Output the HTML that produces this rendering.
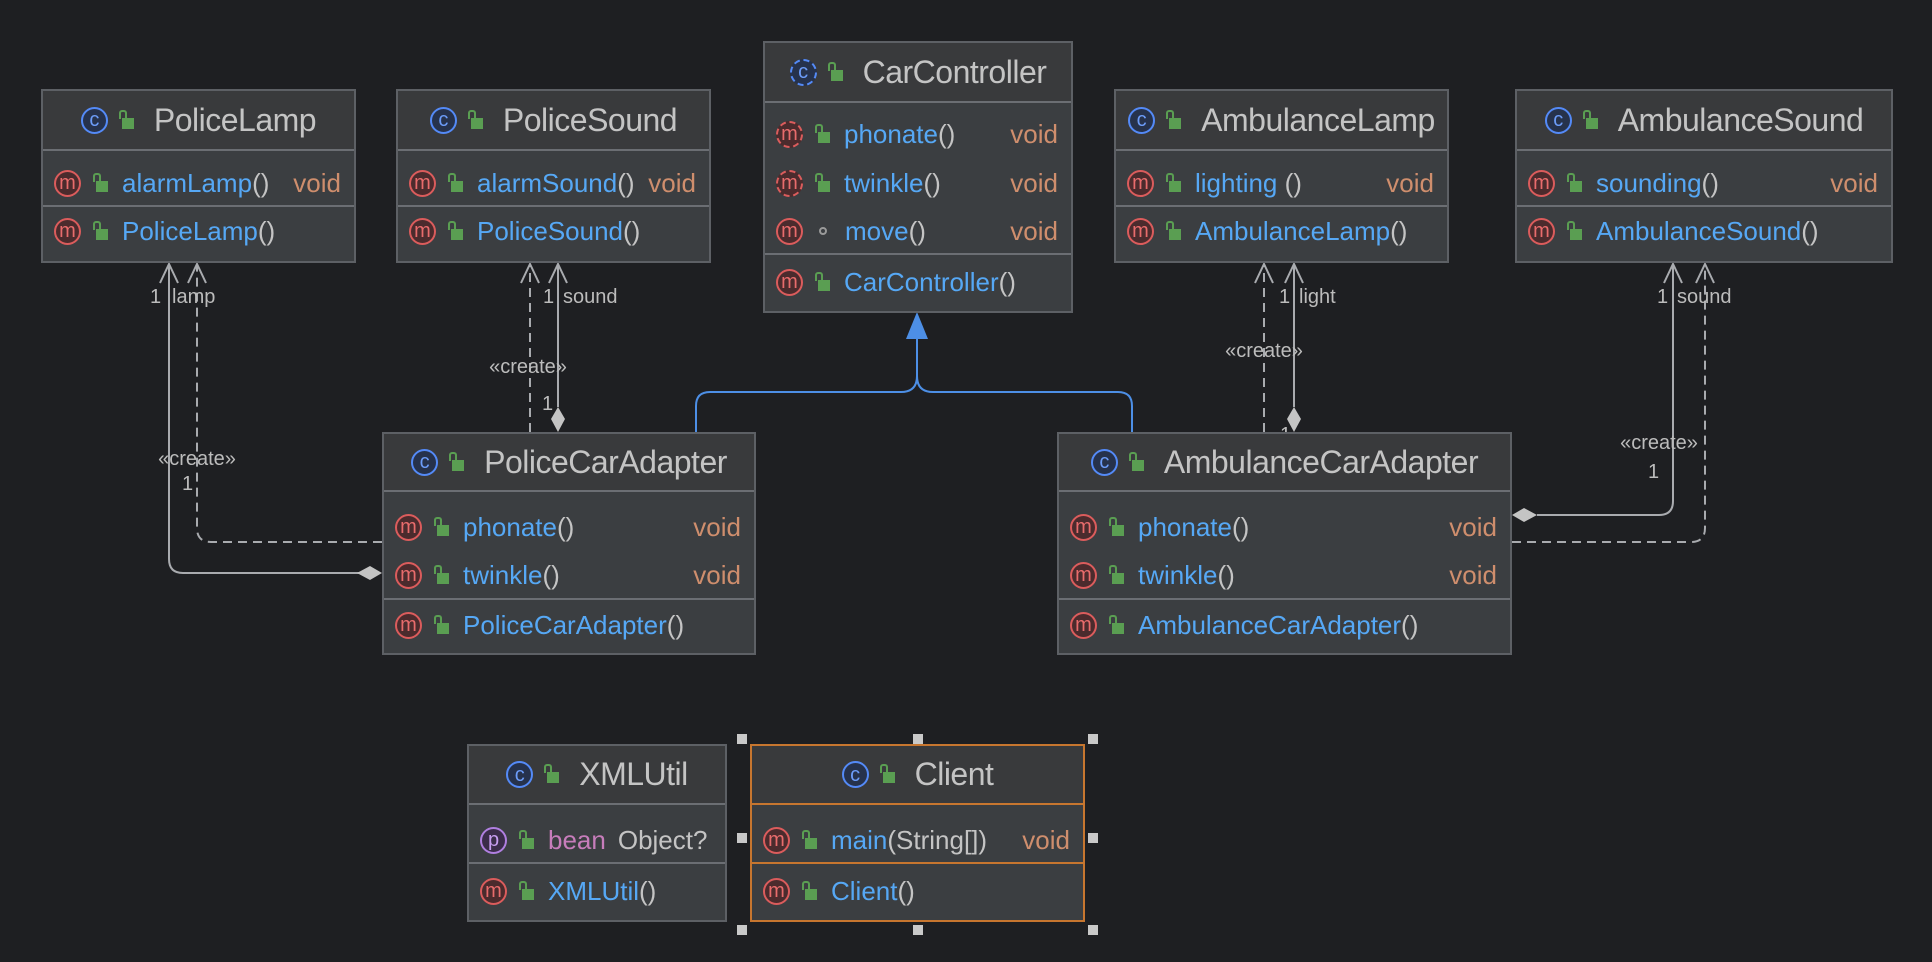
<!DOCTYPE html>
<html><head><meta charset="utf-8"><style>
html,body{margin:0;padding:0;background:#1e1f22;width:1932px;height:962px;overflow:hidden;font-family:"Liberation Sans",sans-serif}
.box{position:absolute;background:#3b3e41;border:2px solid #5d6065;box-sizing:border-box}
.hd{position:absolute;left:0;right:0;top:0;background:#393a3c;border-bottom:2px solid #6b6e73;display:flex;align-items:center;justify-content:center;color:#c4c4c4;font-size:32px;letter-spacing:-0.5px}
.sep{position:absolute;left:0;right:0;height:2px;background:#6b6e73}
.row{position:absolute;left:0;right:0;height:34px;display:flex;align-items:center;font-size:26px;color:#56a8f5;white-space:nowrap}
.ic{width:27px;height:27px;border-radius:50%;border:2px solid;display:inline-flex;align-items:center;justify-content:center;font-size:20px;box-sizing:border-box;flex:none;line-height:1;letter-spacing:0}
.m{border-color:#db5c5c;background:#4b2b2d;color:#e86c6c}
.c{border-color:#548af7;background:#26324c;color:#6c9cf8}
.p{border-color:#b07fe0;background:#3b2c4a;color:#c79df0}
.ab{border-style:dashed}
.lk{position:relative;width:12px;height:11px;background:#5a9e52;flex:none;margin-top:6px}
.lk:before{content:"";position:absolute;left:-3px;top:-8px;width:4px;height:7px;border:2px solid #5a9e52;border-bottom:none;border-radius:3px 3px 0 0}
.row .ic{margin-left:11px}.row .lk{margin-left:15px}.row .t{margin-left:14px}
.hd .lk{margin-left:14px}.hd .t{margin-left:20px}
.pa{color:#c4c4c4}
.v{margin-left:auto;padding-right:13px;color:#cf8e6d}
.dot{width:8px;height:8px;border:2px solid #9a9a9a;border-radius:50%;box-sizing:border-box;margin-left:16px;margin-right:4px;flex:none}
.fld{color:#c77dbb}
.h{position:absolute;width:10px;height:10px;background:#c9c9c9}
svg{position:absolute;left:0;top:0}
svg text{font-family:"Liberation Sans",sans-serif;font-size:20px;fill:#bcbcbc}
</style></head><body>

<svg width="1932" height="962">
<g fill="none" stroke="#a9abaf" stroke-width="2">
<path d="M370,573 H183 Q169,573 169,559 V264"/><path d="M160,283 L169,264 L178,283"/>
<path d="M382,542 H211 Q197,542 197,528 V264" stroke-dasharray="9,6"/><path d="M188,283 L197,264 L206,283"/>
<path d="M530,432 V264" stroke-dasharray="9,6"/><path d="M521,283 L530,264 L539,283"/>
<path d="M558,407 V264"/><path d="M549,283 L558,264 L567,283"/>
<path d="M1264,432 V264" stroke-dasharray="9,6"/><path d="M1255,283 L1264,264 L1273,283"/>
<path d="M1294,407 V264"/><path d="M1285,283 L1294,264 L1303,283"/>
<path d="M1537,515 H1659 Q1673,515 1673,501 V264"/><path d="M1664,283 L1673,264 L1682,283"/>
<path d="M1512,542 H1691 Q1705,542 1705,528 V264" stroke-dasharray="9,6"/><path d="M1696,283 L1705,264 L1714,283"/>
</g>
<g fill="#c4c4c4">
<polygon points="382,573 370,566 357,573 370,580"/>
<polygon points="558,407 565,419 558,432 551,419"/>
<polygon points="1294,407 1301,419 1294,432 1287,419"/>
<polygon points="1512,515 1524,508 1537,515 1524,522"/>
</g>
<g fill="none" stroke="#4d8fe6" stroke-width="2">
<path d="M917,339 V376 Q917,392 901,392 H710 Q696,392 696,406 V432"/>
<path d="M917,376 Q917,392 933,392 H1118 Q1132,392 1132,406 V432"/>
</g>
<polygon points="917,312 906,339 928,339" fill="#4d8fe6"/>
<text x="150" y="303">1</text><text x="172" y="303">lamp</text>
<text x="197" y="465" text-anchor="middle">«create»</text><text x="182" y="490">1</text>
<text x="543" y="303">1</text><text x="563" y="303">sound</text>
<text x="528" y="373" text-anchor="middle">«create»</text><text x="542" y="410">1</text>
<text x="1279" y="303">1</text><text x="1299" y="303">light</text>
<text x="1264" y="357" text-anchor="middle">«create»</text><text x="1280" y="441">1</text>
<text x="1657" y="303">1</text><text x="1677" y="303">sound</text>
<text x="1659" y="449" text-anchor="middle">«create»</text><text x="1648" y="478">1</text>
</svg>

<!-- PoliceLamp -->
<div class="box" style="left:41px;top:89px;width:315px;height:174px">
<div class="hd" style="height:58px"><span class="ic c">c</span><span class="lk"></span><span class="t">PoliceLamp</span></div>
<div class="row" style="top:75px"><span class="ic m">m</span><span class="lk"></span><span class="t">alarmLamp<span class="pa">()</span></span><span class="v">void</span></div>
<div class="sep" style="top:114px"></div>
<div class="row" style="top:123px"><span class="ic m">m</span><span class="lk"></span><span class="t">PoliceLamp<span class="pa">()</span></span></div>
</div>

<!-- PoliceSound -->
<div class="box" style="left:396px;top:89px;width:315px;height:174px">
<div class="hd" style="height:58px"><span class="ic c">c</span><span class="lk"></span><span class="t">PoliceSound</span></div>
<div class="row" style="top:75px"><span class="ic m">m</span><span class="lk"></span><span class="t">alarmSound<span class="pa">()</span></span><span class="v">void</span></div>
<div class="sep" style="top:114px"></div>
<div class="row" style="top:123px"><span class="ic m">m</span><span class="lk"></span><span class="t">PoliceSound<span class="pa">()</span></span></div>
</div>

<!-- CarController -->
<div class="box" style="left:763px;top:41px;width:310px;height:272px">
<div class="hd" style="height:58px"><span class="ic c ab">c</span><span class="lk"></span><span class="t">CarController</span></div>
<div class="row" style="top:74px"><span class="ic m ab">m</span><span class="lk"></span><span class="t">phonate<span class="pa">()</span></span><span class="v">void</span></div>
<div class="row" style="top:123px"><span class="ic m ab">m</span><span class="lk"></span><span class="t">twinkle<span class="pa">()</span></span><span class="v">void</span></div>
<div class="row" style="top:171px"><span class="ic m">m</span><span class="dot"></span><span class="t">move<span class="pa">()</span></span><span class="v">void</span></div>
<div class="sep" style="top:210px"></div>
<div class="row" style="top:222px"><span class="ic m">m</span><span class="lk"></span><span class="t">CarController<span class="pa">()</span></span></div>
</div>

<!-- AmbulanceLamp -->
<div class="box" style="left:1114px;top:89px;width:335px;height:174px">
<div class="hd" style="height:58px"><span class="ic c">c</span><span class="lk"></span><span class="t">AmbulanceLamp</span></div>
<div class="row" style="top:75px"><span class="ic m">m</span><span class="lk"></span><span class="t">lighting<span class="pa"> ()</span></span><span class="v">void</span></div>
<div class="sep" style="top:114px"></div>
<div class="row" style="top:123px"><span class="ic m">m</span><span class="lk"></span><span class="t">AmbulanceLamp<span class="pa">()</span></span></div>
</div>

<!-- AmbulanceSound -->
<div class="box" style="left:1515px;top:89px;width:378px;height:174px">
<div class="hd" style="height:58px"><span class="ic c">c</span><span class="lk"></span><span class="t">AmbulanceSound</span></div>
<div class="row" style="top:75px"><span class="ic m">m</span><span class="lk"></span><span class="t">sounding<span class="pa">()</span></span><span class="v">void</span></div>
<div class="sep" style="top:114px"></div>
<div class="row" style="top:123px"><span class="ic m">m</span><span class="lk"></span><span class="t">AmbulanceSound<span class="pa">()</span></span></div>
</div>

<!-- PoliceCarAdapter -->
<div class="box" style="left:382px;top:432px;width:374px;height:223px">
<div class="hd" style="height:56px"><span class="ic c">c</span><span class="lk"></span><span class="t">PoliceCarAdapter</span></div>
<div class="row" style="top:76px"><span class="ic m">m</span><span class="lk"></span><span class="t">phonate<span class="pa">()</span></span><span class="v">void</span></div>
<div class="row" style="top:124px"><span class="ic m">m</span><span class="lk"></span><span class="t">twinkle<span class="pa">()</span></span><span class="v">void</span></div>
<div class="sep" style="top:164px"></div>
<div class="row" style="top:174px"><span class="ic m">m</span><span class="lk"></span><span class="t">PoliceCarAdapter<span class="pa">()</span></span></div>
</div>

<!-- AmbulanceCarAdapter -->
<div class="box" style="left:1057px;top:432px;width:455px;height:223px">
<div class="hd" style="height:56px"><span class="ic c">c</span><span class="lk"></span><span class="t">AmbulanceCarAdapter</span></div>
<div class="row" style="top:76px"><span class="ic m">m</span><span class="lk"></span><span class="t">phonate<span class="pa">()</span></span><span class="v">void</span></div>
<div class="row" style="top:124px"><span class="ic m">m</span><span class="lk"></span><span class="t">twinkle<span class="pa">()</span></span><span class="v">void</span></div>
<div class="sep" style="top:164px"></div>
<div class="row" style="top:174px"><span class="ic m">m</span><span class="lk"></span><span class="t">AmbulanceCarAdapter<span class="pa">()</span></span></div>
</div>

<!-- XMLUtil -->
<div class="box" style="left:467px;top:744px;width:260px;height:178px">
<div class="hd" style="height:57px"><span class="ic c">c</span><span class="lk"></span><span class="t">XMLUtil</span></div>
<div class="row" style="top:77px"><span class="ic p">p</span><span class="lk"></span><span class="t fld">bean</span><span style="color:#c4c4c4;margin-left:12px">Object?</span></div>
<div class="sep" style="top:116px"></div>
<div class="row" style="top:128px"><span class="ic m">m</span><span class="lk"></span><span class="t">XMLUtil<span class="pa">()</span></span></div>
</div>

<!-- Client -->
<div class="box" style="left:750px;top:744px;width:335px;height:178px;border-color:#c7762f">
<div class="hd" style="height:57px;border-bottom-color:#c7762f"><span class="ic c">c</span><span class="lk"></span><span class="t">Client</span></div>
<div class="row" style="top:77px"><span class="ic m">m</span><span class="lk"></span><span class="t">main<span class="pa">(String[])</span></span><span class="v">void</span></div>
<div class="sep" style="top:116px;background:#c7762f"></div>
<div class="row" style="top:128px"><span class="ic m">m</span><span class="lk"></span><span class="t">Client<span class="pa">()</span></span></div>
</div>

<div class="h" style="left:737px;top:734px"></div>
<div class="h" style="left:913px;top:734px"></div>
<div class="h" style="left:1088px;top:734px"></div>
<div class="h" style="left:737px;top:833px"></div>
<div class="h" style="left:1088px;top:833px"></div>
<div class="h" style="left:737px;top:925px"></div>
<div class="h" style="left:913px;top:925px"></div>
<div class="h" style="left:1088px;top:925px"></div>
</body></html>
